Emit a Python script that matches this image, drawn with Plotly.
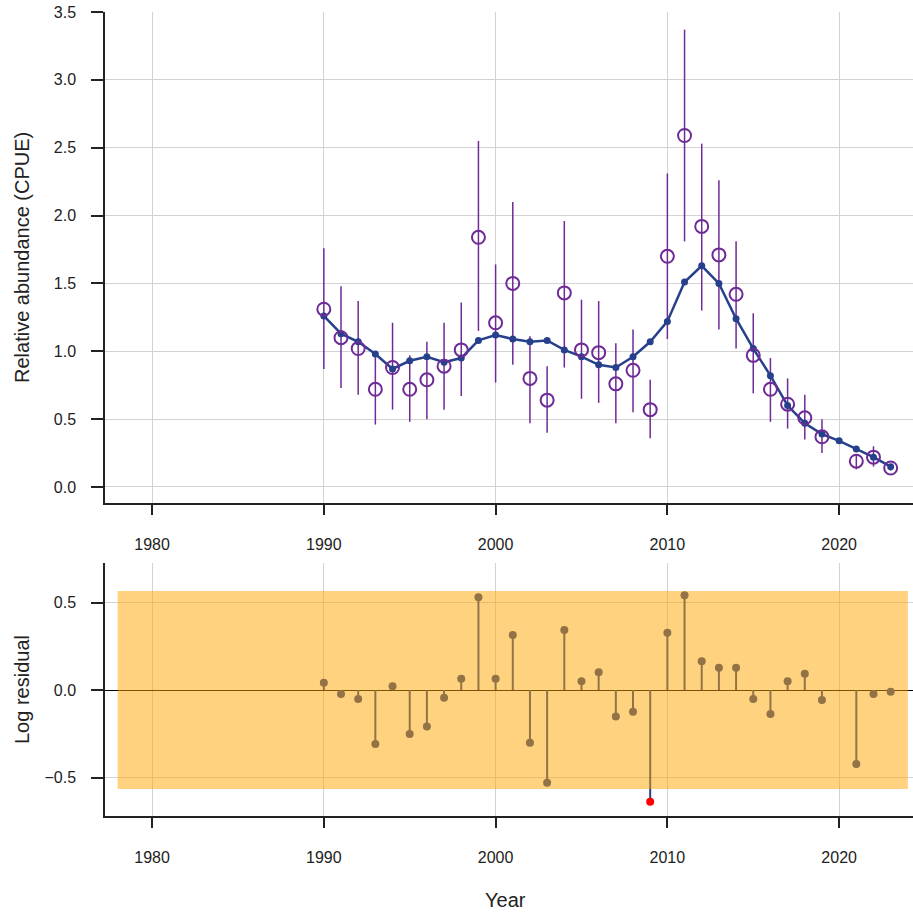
import plotly.graph_objects as go

# Index years
years = list(range(1990, 2024))

# Observed CPUE index (None = no survey that year)
obs = [1.31, 1.10, 1.02, 0.72, 0.88, 0.72, 0.79, 0.89, 1.01, 1.84,
       1.21, 1.50, 0.80, 0.64, 1.43, 1.01, 0.99, 0.76, 0.86, 0.57,
       1.70, 2.59, 1.92, 1.71, 1.42, 0.97, 0.72, 0.61, 0.51, 0.37,
       None, 0.19, 0.22, 0.14]

# Lower / upper confidence limits of the observed index
obs_lo = [0.87, 0.73, 0.68, 0.46, 0.57, 0.48, 0.50, 0.57, 0.67, 1.15,
          0.77, 0.90, 0.47, 0.40, 0.88, 0.65, 0.62, 0.47, 0.55, 0.36,
          1.09, 1.81, 1.30, 1.16, 1.02, 0.69, 0.48, 0.43, 0.35, 0.25,
          None, 0.13, 0.15, 0.12]
obs_hi = [1.76, 1.48, 1.37, 1.00, 1.21, 0.97, 1.07, 1.21, 1.36, 2.55,
          1.64, 2.10, 1.11, 0.89, 1.96, 1.38, 1.37, 1.06, 1.16, 0.79,
          2.31, 3.37, 2.53, 2.26, 1.81, 1.28, 0.95, 0.80, 0.68, 0.50,
          None, 0.24, 0.30, 0.17]

# Model-predicted index
pred = [1.26, 1.13, 1.07, 0.98, 0.87, 0.93, 0.96, 0.92, 0.95, 1.08,
        1.12, 1.09, 1.07, 1.08, 1.01, 0.96, 0.90, 0.88, 0.96, 1.07,
        1.22, 1.51, 1.63, 1.50, 1.24, 1.02, 0.82, 0.60, 0.47, 0.39,
        0.34, 0.28, 0.22, 0.15]

# Log residuals (None = no observation)
resid = [0.042, -0.023, -0.051, -0.309, 0.021, -0.251, -0.208, -0.044, 0.065, 0.530,
         0.065, 0.314, -0.301, -0.530, 0.343, 0.050, 0.101, -0.152, -0.124, -0.638,
         0.328, 0.541, 0.164, 0.128, 0.128, -0.051, -0.137, 0.050, 0.093, -0.057,
         None, -0.423, -0.023, -0.010]

# Acceptable residual band
band_limit = 0.566
band_years = [1978, 2024]

x_ticks = [1980, 1990, 2000, 2010, 2020]
y_ticks_top = [0.0, 0.5, 1.0, 1.5, 2.0, 2.5, 3.0, 3.5]
y_ticks_bot = [-0.5, 0.0, 0.5]

W, H = 913, 914
PURPLE = "#6E2A96"
NAVY = "#27408B"
AXIS = "#222222"
GRID = "#d3d3d3"
TICK_FONT = dict(family="Liberation Sans, Arial, sans-serif", size=16, color="#222222")
TITLE_FONT = dict(family="Liberation Sans, Arial, sans-serif", size=20, color="#222222")

fig = go.Figure()

# ---- top panel: observed vs predicted CPUE ----
ex, ey = [], []
for yr, lo, hi in zip(years, obs_lo, obs_hi):
    if lo is None:
        continue
    ex += [yr, yr, None]
    ey += [lo, hi, None]
fig.add_trace(go.Scatter(x=ex, y=ey, mode="lines", xaxis="x", yaxis="y",
                         line=dict(color=PURPLE, width=1.5), showlegend=False,
                         hoverinfo="skip"))
fig.add_trace(go.Scatter(x=years, y=pred, mode="lines+markers", xaxis="x", yaxis="y",
                         line=dict(color=NAVY, width=2.5),
                         marker=dict(color=NAVY, size=7), showlegend=False))
fig.add_trace(go.Scatter(x=years, y=obs, mode="markers", xaxis="x", yaxis="y",
                         marker=dict(symbol="circle-open", color=PURPLE, size=13,
                                     line=dict(width=2, color=PURPLE)),
                         showlegend=False))

# ---- bottom panel: log residuals ----
sx, sy = [], []
for yr, r in zip(years, resid):
    if r is None:
        continue
    sx += [yr, yr, None]
    sy += [0, r, None]
fig.add_trace(go.Scatter(x=sx, y=sy, mode="lines", xaxis="x2", yaxis="y2",
                         line=dict(color=NAVY, width=2), showlegend=False,
                         hoverinfo="skip"))
rx = [yr for yr, r in zip(years, resid) if r is not None]
ry = [r for r in resid if r is not None]
rc = ["#ff0000" if abs(r) > band_limit else NAVY for r in ry]
fig.add_trace(go.Scatter(x=rx, y=ry, mode="markers", xaxis="x2", yaxis="y2",
                         marker=dict(color=rc, size=8), showlegend=False))

fig.add_shape(type="rect", xref="x2", yref="y2",
              x0=band_years[0], x1=band_years[1], y0=-band_limit, y1=band_limit,
              fillcolor="rgba(255,165,0,0.5)", line=dict(width=0), layer="above")

x_left = 105 / W
xrange = [1977.26, 2024.3]

def xaxis(anchor):
    return dict(domain=[x_left, 1], range=xrange, anchor=anchor, automargin=False,
                tickvals=x_ticks, ticks="outside", ticklen=10, tickwidth=1.5,
                tickcolor=AXIS, showline=True, linecolor=AXIS, linewidth=1.5,
                showgrid=True, gridcolor=GRID, gridwidth=1, zeroline=False,
                tickfont=TICK_FONT, ticklabelstandoff=16)

def yaxis(anchor, dom, rng, ticks, zero):
    return dict(domain=dom, range=rng, anchor=anchor, automargin=False,
                tickvals=ticks, tickformat=".1f", ticks="outside", ticklen=12,
                tickwidth=1.5, tickcolor=AXIS, showline=True, linecolor=AXIS,
                linewidth=1.5, showgrid=True, gridcolor=GRID, zeroline=zero,
                zerolinecolor="#000000", zerolinewidth=1,
                tickfont=TICK_FONT, ticklabelstandoff=12)

fig.update_layout(
    width=W, height=H,
    margin=dict(l=0, r=0, t=0, b=0, autoexpand=False),
    paper_bgcolor="white", plot_bgcolor="white",
    xaxis=xaxis("y"),
    yaxis=yaxis("x", [1 - 503 / H, 1 - 12 / H], [-0.118, 3.5], y_ticks_top, False),
    xaxis2=xaxis("y2"),
    yaxis2=yaxis("x2", [1 - 816 / H, 1 - 563 / H], [-0.72, 0.726], y_ticks_bot, True),
    annotations=[
        dict(text="Relative abundance (CPUE)", x=22 / W, y=1 - 258 / H,
             xref="paper", yref="paper", textangle=-90, showarrow=False,
             xanchor="center", yanchor="middle", font=TITLE_FONT),
        dict(text="Log residual", x=22 / W, y=1 - 690 / H,
             xref="paper", yref="paper", textangle=-90, showarrow=False,
             xanchor="center", yanchor="middle", font=TITLE_FONT),
        dict(text="Year", x=505 / W, y=1 - 900 / H,
             xref="paper", yref="paper", showarrow=False,
             xanchor="center", yanchor="middle", font=TITLE_FONT),
    ],
)

fig.write_html("out.html")
